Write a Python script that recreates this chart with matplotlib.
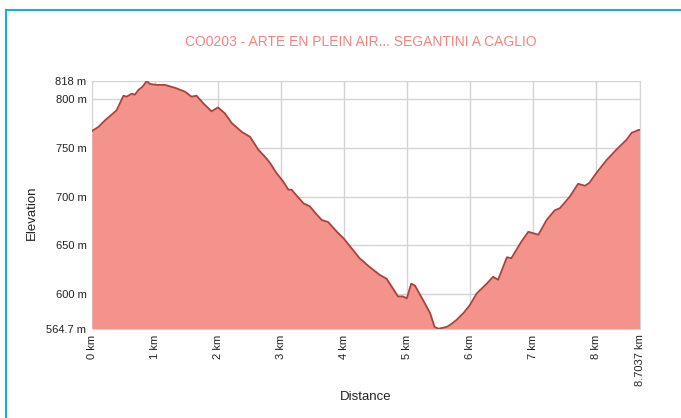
import numpy as np
import matplotlib
matplotlib.use('Agg')
import matplotlib.pyplot as plt
from matplotlib.lines import Line2D

plt.rcParams['font.family'] = ['Liberation Sans', 'DejaVu Sans']

# profile (km, m)
dist_km = [0.0, 0.10, 0.21, 0.30, 0.39, 0.50, 0.55, 0.63, 0.68, 0.74, 0.80, 0.87,
           0.92, 1.03, 1.16, 1.32, 1.48, 1.58, 1.66, 1.77, 1.90, 2.00, 2.11, 2.22,
           2.38, 2.51, 2.64, 2.77, 2.83, 2.93, 3.04, 3.12, 3.17, 3.25, 3.36, 3.46,
           3.55, 3.65, 3.75, 3.89, 4.00, 4.10, 4.25, 4.41, 4.57, 4.68, 4.73, 4.86,
           4.94, 5.00, 5.07, 5.13, 5.26, 5.37, 5.44, 5.50, 5.58, 5.64, 5.71, 5.79,
           5.90, 6.00, 6.11, 6.27, 6.37, 6.45, 6.59, 6.66, 6.82, 6.93, 7.09, 7.22,
           7.35, 7.43, 7.59, 7.72, 7.83, 7.90, 8.01, 8.17, 8.33, 8.49, 8.57, 8.68,
           8.7037]
elev_m = [767, 771, 778, 783, 788, 803, 802, 805, 804, 809, 812, 818,
          815, 814, 814, 811, 807, 802, 803, 795, 787, 791, 785, 775,
          766, 761, 748, 739, 734, 724, 715, 707, 707, 701, 693, 690,
          683, 676, 674, 664, 657, 649, 637, 628, 620, 616, 611, 598,
          598, 596, 611, 609, 594, 581, 567, 565, 566, 567, 570, 574,
          581, 589, 601, 611, 618, 615, 638, 637, 654, 664, 661, 676,
          686, 688, 700, 713, 711, 714, 724, 737, 748, 758, 765, 768,
          768]

y_ticks = [564.7, 600, 650, 700, 750, 800, 818]
x_ticks = [0, 1, 2, 3, 4, 5, 6, 7, 8, 8.7037]
x_labels = ['0 km', '1 km', '2 km', '3 km', '4 km', '5 km', '6 km', '7 km', '8 km', '8.7037 km']
y_labels = ['564.7 m', '600 m', '650 m', '700 m', '750 m', '800 m', '818 m']

fig = plt.figure(figsize=(6.81, 4.18), dpi=100)
ax = fig.add_axes([92 / 681, 1 - 329 / 418, 548 / 681, 248 / 418])

ax.fill_between(dist_km, elev_m, 564.7, color='#f4928c', linewidth=0, zorder=2)
ax.plot(dist_km, elev_m, color='#a8423c', linewidth=1.3, zorder=3)

ax.set_xlim(0, 8.7037)
ax.set_ylim(564.7, 818)
ax.set_xticks(x_ticks)
ax.set_xticklabels(x_labels, rotation=90, fontsize=8, color='#222222')
ax.set_yticks(y_ticks)
ax.set_yticklabels(y_labels, fontsize=8, color='#222222')
ax.tick_params(length=0, pad=4)
ax.grid(True, color='#d4d4d4', linewidth=1, zorder=1)
ax.set_axisbelow(True)
for s in ['left', 'bottom', 'top']:
    ax.spines[s].set_visible(False)
ax.spines['right'].set_color('#d4d4d4')

fig.text(361 / 681, 1 - 42 / 418, 'CO0203 - ARTE EN PLEIN AIR... SEGANTINI A CAGLIO',
         ha='center', va='center', fontsize=10, color='#f0857f')
fig.text(366 / 681, 1 - 397 / 418, 'Distance', ha='center', va='center', fontsize=9.5, color='#222222')
fig.text(32 / 681, 1 - 213 / 418, 'Elevation', ha='center', va='center', rotation=90,
         fontsize=9.5, color='#222222')

# blue frame
fig.add_artist(Line2D([6 / 681, 1], [1 - 10 / 418, 1 - 10 / 418], color='#20a9e1', linewidth=1.5))
fig.add_artist(Line2D([6 / 681, 6 / 681], [0, 1 - 10 / 418], color='#20a9e1', linewidth=1.5))

fig.savefig('out.png', dpi=100)
